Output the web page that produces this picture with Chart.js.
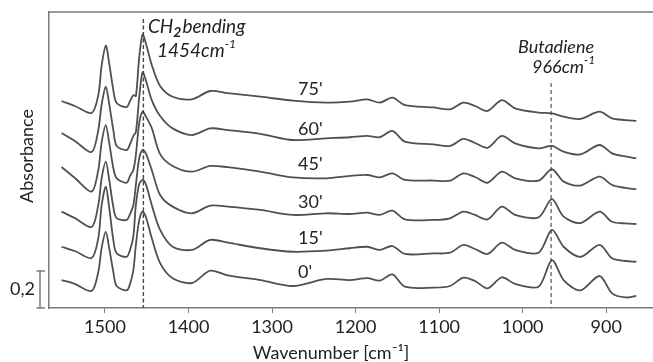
<!DOCTYPE html>
<html>
<head>
<meta charset="utf-8">
<script src="https://cdn.jsdelivr.net/npm/chart.js@4.4.1/dist/chart.umd.min.js"></script>
<style>
  html, body { margin: 0; padding: 0; background: #fff; }
  #wrap { width: 653px; height: 362px; }
</style>
</head>
<body>
<div id="wrap"><canvas id="c" width="653" height="362"></canvas></div>
<script>
// ---- data ----
const wavenumbers = [1552,1536,1516,1508,1504,1499,1495,1490,1486,1474,1470,1466,1463,1459,1455,1451,1444,1434,1419,1396,1374,1353,1314,1275,1235,1207,1186,1171,1156,1141,1107,1087,1071,1057,1042,1025,1009,981,965,951,931,908,893,877,864];

const abs75 = [1.119,1.092,1.054,1.151,1.310,1.418,1.325,1.178,1.108,1.086,1.119,1.151,1.146,1.355,1.479,1.430,1.314,1.200,1.142,1.128,1.173,1.161,1.142,1.121,1.110,1.115,1.128,1.110,1.137,1.097,1.084,1.074,1.110,1.092,1.065,1.124,1.079,1.056,1.052,1.034,1.022,1.061,1.025,1.016,1.011];
const abs60 = [0.946,0.903,0.843,0.962,1.100,1.196,1.105,0.962,0.876,0.854,0.886,0.930,0.951,1.140,1.274,1.230,1.124,1.038,0.971,0.935,0.971,0.962,0.941,0.908,0.917,0.923,0.930,0.923,0.957,0.899,0.884,0.876,0.914,0.892,0.866,0.930,0.890,0.863,0.876,0.845,0.830,0.881,0.836,0.819,0.809];
const abs45 = [0.762,0.703,0.629,0.746,0.895,0.989,0.895,0.757,0.701,0.677,0.714,0.746,0.827,1.000,1.061,1.035,0.973,0.832,0.768,0.737,0.768,0.761,0.737,0.706,0.701,0.714,0.719,0.706,0.728,0.692,0.689,0.688,0.728,0.708,0.677,0.737,0.701,0.688,0.750,0.683,0.662,0.710,0.665,0.649,0.642];
const abs30 = [0.521,0.486,0.438,0.557,0.700,0.791,0.695,0.546,0.486,0.476,0.508,0.557,0.665,0.810,0.854,0.835,0.746,0.611,0.548,0.512,0.553,0.548,0.530,0.503,0.512,0.508,0.515,0.503,0.526,0.479,0.476,0.485,0.521,0.503,0.479,0.548,0.503,0.490,0.588,0.494,0.459,0.521,0.466,0.457,0.454];
const abs15 = [0.331,0.308,0.270,0.378,0.555,0.656,0.545,0.368,0.296,0.277,0.314,0.389,0.557,0.670,0.692,0.668,0.557,0.422,0.331,0.314,0.368,0.353,0.323,0.304,0.310,0.323,0.331,0.314,0.335,0.292,0.295,0.299,0.341,0.319,0.292,0.353,0.314,0.299,0.422,0.331,0.276,0.341,0.269,0.254,0.250];
const abs0  = [0.151,0.130,0.092,0.195,0.325,0.412,0.325,0.195,0.119,0.095,0.130,0.205,0.341,0.475,0.521,0.492,0.378,0.243,0.161,0.135,0.202,0.176,0.151,0.119,0.157,0.151,0.162,0.148,0.182,0.115,0.110,0.119,0.164,0.146,0.106,0.166,0.130,0.115,0.259,0.151,0.095,0.173,0.079,0.057,0.065];

const seriesLabels = ["75'", "60'", "45'", "30'", "15'", "0'"];
const xTickValues = [1500, 1400, 1300, 1200, 1100, 1000, 900];
const markerCH2 = 1454;
const markerButadiene = 966;
const scaleBarValue = 0.2;

// ---- chart ----
const FONT = 'Lato, "Open Sans", sans-serif';
const LINE = '#505050';
const AXIS = '#7a7a7a';
const TEXT = '#222';

const allSeries = [abs75, abs60, abs45, abs30, abs15, abs0];
const datasets = allSeries.map((arr, i) => ({
  label: seriesLabels[i],
  data: wavenumbers.map((w, j) => ({ x: w, y: arr[j] })),
  borderColor: LINE,
  borderWidth: 1.8,
  pointRadius: 0,
  fill: false,
  tension: 0.3
}));

const labelBaselines = [95, 135, 170, 208, 244, 278];

const decor = {
  id: 'decor',
  afterDatasetsDraw(chart) {
    const ctx = chart.ctx;
    const xs = chart.scales.x, ys = chart.scales.y;
    const ca = chart.chartArea;
    ctx.save();
    // top frame line
    ctx.strokeStyle = AXIS; ctx.lineWidth = 1.5;
    ctx.beginPath(); ctx.moveTo(ca.left, ca.top); ctx.lineTo(ca.right, ca.top); ctx.stroke();

    // dashed markers
    ctx.strokeStyle = '#444'; ctx.lineWidth = 1.4;
    ctx.setLineDash([4, 2.5]);
    let xp = xs.getPixelForValue(markerCH2);
    ctx.beginPath(); ctx.moveTo(xp, 19); ctx.lineTo(xp, ca.bottom); ctx.stroke();
    ctx.setLineDash([4, 3]); ctx.lineWidth = 1.1;
    xp = xs.getPixelForValue(markerButadiene);
    ctx.beginPath(); ctx.moveTo(xp, 83); ctx.lineTo(xp, ca.bottom); ctx.stroke();
    ctx.setLineDash([]);

    // scale bar
    const y0 = ys.getPixelForValue(0), y1 = ys.getPixelForValue(scaleBarValue);
    ctx.strokeStyle = AXIS; ctx.lineWidth = 1.5;
    ctx.beginPath();
    ctx.moveTo(40, y0); ctx.lineTo(40, y1);
    ctx.moveTo(36.5, y0); ctx.lineTo(45, y0);
    ctx.moveTo(36.5, y1); ctx.lineTo(45, y1);
    ctx.stroke();

    ctx.fillStyle = TEXT;
    ctx.textBaseline = 'alphabetic';
    ctx.font = '18px ' + FONT;
    ctx.textAlign = 'right';
    ctx.fillText('0,2', 35, 295);

    // curve labels
    ctx.textAlign = 'left';
    seriesLabels.forEach((s, i) => ctx.fillText(s, 298, labelBaselines[i]));

    // axis titles
    ctx.textAlign = 'center';
    ctx.fillText('Wavenumber [cm\u207B\u00B9]', 331, 359);
    ctx.save();
    ctx.translate(33, 156); ctx.rotate(-Math.PI / 2);
    ctx.fillText('Absorbance', 0, 0);
    ctx.restore();

    // CH2 annotation
    ctx.textAlign = 'left';
    ctx.font = 'italic 19px ' + FONT;
    let x = 148;
    ctx.fillText('CH', x, 33); x += ctx.measureText('CH').width;
    ctx.font = 'italic bold 14px ' + FONT;
    ctx.fillText('2', x, 37); x += ctx.measureText('2').width + 1;
    ctx.font = 'italic 19px ' + FONT;
    ctx.fillText('bending', x, 33);
    x = 157;
    ctx.fillText('1454cm', x, 57); x += ctx.measureText('1454cm').width;
    ctx.font = 'italic 12px ' + FONT;
    ctx.fillText('-1', x, 48);

    // Butadiene annotation
    ctx.font = 'italic 18px ' + FONT;
    ctx.fillText('Butadiene', 518, 53);
    x = 532;
    ctx.fillText('966cm', x, 73); x += ctx.measureText('966cm').width;
    ctx.font = 'italic 12px ' + FONT;
    ctx.fillText('-1', x, 64);
    ctx.restore();
  }
};

new Chart(document.getElementById('c'), {
  type: 'line',
  data: { datasets },
  options: {
    responsive: false,
    devicePixelRatio: 1,
    animation: false,
    layout: { padding: { top: 12, left: 0, right: 0, bottom: 0 } },
    plugins: { legend: { display: false }, tooltip: { enabled: false } },
    scales: {
      x: {
        type: 'linear',
        reverse: true,
        min: 844,
        max: 1567,
        afterBuildTicks: s => { s.ticks = xTickValues.map(v => ({ value: v })); },
        afterFit: s => { s.height = 54; },
        ticks: { font: { family: FONT, size: 18 }, color: TEXT, padding: 3, maxRotation: 0, autoSkip: false,
                 callback: v => String(v) },
        grid: { display: true, drawOnChartArea: false, drawTicks: true, tickLength: 5, color: AXIS, tickColor: AXIS },
        border: { display: true, color: AXIS, width: 1.5 }
      },
      y: {
        min: 0,
        max: 1.6,
        afterFit: s => { s.width = 49; },
        ticks: { display: false },
        grid: { display: false },
        border: { display: true, color: AXIS, width: 1.5 }
      }
    }
  },
  plugins: [decor]
});
</script>
</body>
</html>
